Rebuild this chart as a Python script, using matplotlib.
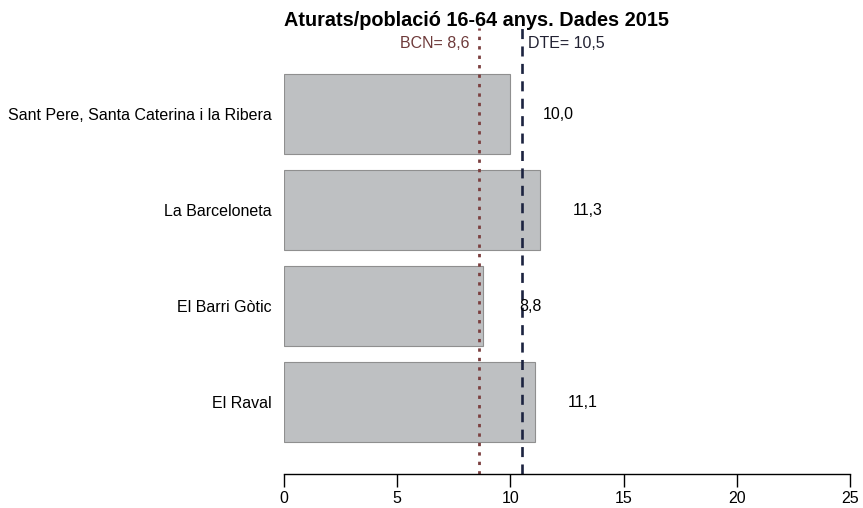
import matplotlib.pyplot as plt

plt.rcParams['font.family'] = ['Liberation Sans', 'DejaVu Sans']

barris = ["El Raval", "El Barri Gòtic", "La Barceloneta",
          "Sant Pere, Santa Caterina i la Ribera"]
valors = [11.1, 8.8, 11.3, 10.0]
bcn = 8.6
dte = 10.5
xticks = [0, 5, 10, 15, 20, 25]

fig = plt.figure(figsize=(8.63, 5.08), dpi=100)
ax = fig.add_axes([0.329, 0.067, 0.656, 0.878])

pos = range(len(barris))
ax.barh(pos, valors, height=0.83, color="#bec0c2", edgecolor="#8f8f8f", linewidth=0.8)
for p, v in zip(pos, valors):
    ax.text(v + 2.1, p, f"{v:.1f}".replace(".", ","), ha="center", va="center", fontsize=11.5)

ax.axvline(bcn, color="#7b3f3f", linestyle=(0, (1.2, 2.2)), linewidth=2)
ax.axvline(dte, color="#1c2340", linestyle=(0, (3.8, 2.8)), linewidth=1.9)
ax.text(bcn - 0.4, 0.955, f"BCN= {bcn}".replace(".", ","), transform=ax.get_xaxis_transform(),
        ha="right", va="baseline", color="#6e3a3a", fontsize=11.5)
ax.text(dte + 0.3, 0.955, f"DTE= {dte}".replace(".", ","), transform=ax.get_xaxis_transform(),
        ha="left", va="baseline", color="#222233", fontsize=11.5)

ax.set_xlim(0, 25)
ax.set_ylim(-0.75, 3.9)
ax.set_xticks(xticks)
ax.set_yticks(list(pos))
ax.set_yticklabels(barris, fontsize=11.5)
ax.tick_params(axis="y", length=0, pad=9)
ax.tick_params(axis="x", length=9.5, width=1, labelsize=11.5, pad=3)
for s in ["top", "right", "left"]:
    ax.spines[s].set_visible(False)
ax.spines["bottom"].set_linewidth(1)

fig.text(0.552, 0.948, "Aturats/població 16-64 anys. Dades 2015", ha="center", va="baseline",
         fontsize=14.3, fontweight="bold")

fig.savefig("out.png", dpi=100)
